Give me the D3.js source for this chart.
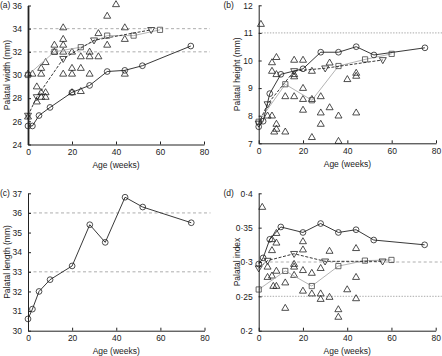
<!DOCTYPE html>
<html>
<head>
<meta charset="utf-8">
<script src="https://cdn.jsdelivr.net/npm/d3@7"></script>
<style>
  html, body { margin: 0; padding: 0; background: #fff; }
  svg { display: block; }
  text { font-family: "Liberation Sans", Arial, sans-serif; fill: #222; }
  .axis text { font-size: 8.5px; }
  .axis path, .axis line { stroke: #222; }
</style>
</head>
<body>
<script>
const xTicks = [0, 20, 40, 60, 80]

// (a) palatal width
const widthTicks = [24, 26, 28, 30, 32, 34, 36]
const widthCircle = [[0, 25.6], [2, 25.6], [5, 26.5], [10, 27.2], [20, 28.5], [28, 29.1], [36, 30.3], [44, 30.4], [52, 30.8], [74, 32.5]]
const widthTriDown = [[0, 26.5], [4, 28.1], [16, 31.4], [30, 33.0], [56, 33.9]]
const widthSquare = [[0, 30.0], [12, 32.0], [24, 32.4], [36, 33.4], [48, 33.4], [60, 33.9]]
const widthTri = [[0, 30.1], [2, 30.1], [6, 30.6], [6, 30.1], [8, 31.1], [12, 32.6], [12, 32.0], [16, 34.1], [16, 33.1],
  [16, 32.6], [16, 32.0], [16, 30.1], [20, 32.0], [20, 30.6], [20, 30.1], [24, 31.6], [24, 30.6], [28, 32.0], [28, 31.6],
  [28, 30.1], [32, 33.6], [32, 31.6], [36, 35.1], [36, 32.6], [40, 36.1], [44, 34.1], [44, 33.1], [44, 30.1], [4, 29.0],
  [6, 28.5], [8, 28.5], [6, 28.1], [8, 28.1], [4, 27.7], [24, 28.6], [20, 28.5], [0, 26.4]]

// (b) palatal height
const heightTicks = [7, 8, 9, 10, 11, 12]
const heightCircle = [[0, 7.6], [2, 7.8], [5, 8.8], [10, 9.5], [20, 9.7], [28, 10.3], [36, 10.3], [44, 10.5], [52, 10.2], [75, 10.46]]
const heightTriDown = [[0, 7.72], [4, 8.42], [16, 9.62], [30, 9.72], [56, 10.02]]
const heightSquare = [[0, 7.78], [12, 9.14], [24, 8.56], [36, 9.8], [48, 10.04], [60, 10.24]]
const heightTri = [[1, 11.32], [6, 9.93], [8, 10.12], [16, 10.02], [20, 10.02], [32, 9.92], [6, 9.62], [8, 9.5], [16, 9.5],
  [16, 9.42], [24, 9.62], [40, 9.32], [44, 9.55], [44, 9.44], [20, 9.0], [12, 8.7], [16, 8.7], [20, 8.6], [24, 8.6],
  [28, 8.7], [20, 8.21], [28, 8.11], [32, 8.3], [36, 8.0], [44, 8.11], [4, 8.0], [6, 8.0], [8, 7.7], [8, 7.52], [7, 7.42],
  [12, 7.42], [24, 7.22], [36, 7.08], [28, 7.7]]

// (c) palatal length
const lengthTicks = [30, 31, 32, 33, 34, 35, 36, 37]
const lengthCircle = [[0, 30.6], [2, 31.1], [5, 32.0], [10, 32.6], [20, 33.3], [28, 35.4], [35, 34.5], [44, 36.8], [52, 36.3], [74, 35.5]]

// (d) palatal index
const indexTicks = [0.2, 0.25, 0.3, 0.35, 0.4]
const indexTickLabels = ['0·2', '0·25', '0·3', '0·35', '0·4']
const indexCircle = [[0, 0.297], [2, 0.306], [5, 0.333], [10, 0.351], [20, 0.343], [28, 0.356], [36, 0.343], [44, 0.347], [52, 0.332], [75, 0.325]]
const indexTriDown = [[0, 0.291], [4, 0.302], [16, 0.312], [30, 0.301], [56, 0.301]]
const indexSquare = [[0, 0.260], [12, 0.287], [24, 0.265], [36, 0.294], [48, 0.302], [60, 0.303]]
const indexTri = [[1.6, 0.380], [8, 0.342], [6, 0.333], [8, 0.328], [6, 0.317], [20, 0.330], [20, 0.318], [32, 0.316],
  [44, 0.320], [4, 0.293], [8, 0.287], [16, 0.297], [16, 0.293], [16, 0.281], [20, 0.288], [24, 0.284], [28, 0.291],
  [4, 0.278], [6, 0.280], [6.6, 0.265], [8, 0.265], [12, 0.270], [20, 0.258], [24, 0.254], [28, 0.254], [28, 0.246],
  [32, 0.249], [40, 0.260], [44, 0.278], [44, 0.247], [12, 0.233], [36, 0.231], [36, 0.220]]

const W = 442, H = 356

const svg = d3.select('body').append('svg').attr('width', W).attr('height', H)

const triUp = 'M0,-3.7L3.5,2.3L-3.5,2.3Z'
const triDown = 'M0,3.7L3.5,-2.3L-3.5,-2.3Z'
const square = 'M-2.6,-2.6H2.6V2.6H-2.6Z'

function drawPanel(p) {
  const g = svg.append('g')
  const x = d3.scaleLinear().domain([0, 80]).range([p.left, p.left + p.w])
  const y = d3.scaleLinear().domain(p.yDomain).range([p.top + p.h, p.top])

  // reference lines
  for (const r of p.refs) {
    g.append('line')
      .attr('x1', p.left).attr('x2', p.left + p.w + 6)
      .attr('y1', y(r.v)).attr('y2', y(r.v))
      .attr('stroke', r.dotted ? '#bbb' : '#999')
      .attr('stroke-width', r.dotted ? 1.4 : 0.8)
      .attr('stroke-dasharray', r.dotted ? '1.4,1.4' : '3,2.5')
  }

  const line = d3.line().x((d) => x(d[0])).y((d) => y(d[1]))

  for (const s of p.series) {
    if (s.line) {
      g.append('path').datum(s.data).attr('d', line)
        .attr('fill', 'none').attr('stroke', s.color).attr('stroke-width', 0.9)
        .attr('stroke-dasharray', s.dash || null)
    }
    g.selectAll(null).data(s.data).join('path')
      .attr('transform', (d) => `translate(${x(d[0])},${y(d[1])})`)
      .attr('d', s.shape === 'circle' ? d3.symbol(d3.symbolCircle, 26)() : s.shape)
      .attr('fill', 'none').attr('stroke', s.markColor || '#222').attr('stroke-width', 0.8)
  }

  g.append('g').attr('class', 'axis')
    .attr('transform', `translate(0,${p.top + p.h})`)
    .call(d3.axisBottom(x).tickValues(xTicks).tickSize(-3).tickSizeOuter(0).tickPadding(4.5))
  const yAxis = g.append('g').attr('class', 'axis')
    .attr('transform', `translate(${p.left},0)`)
    .call(d3.axisLeft(y).tickValues(p.yTicks).tickSize(-3).tickSizeOuter(0).tickPadding(6)
      .tickFormat((d, i) => p.yLabels ? p.yLabels[i] : d))
  if (p.grayAxis) yAxis.select('.domain').attr('stroke', '#999').attr('stroke-width', 1.8)

  svg.append('text').attr('x', p.left + p.w / 2).attr('y', p.top + p.h + 23.5)
    .attr('text-anchor', 'middle').style('font-size', '8.5px').text('Age (weeks)')
  svg.append('text')
    .attr('transform', `translate(${p.left - 18.5},${p.top + p.h / 2}) rotate(-90)`)
    .attr('text-anchor', 'middle').style('font-size', '8.5px').text(p.yTitle)
  svg.append('text').attr('x', p.tagX).attr('y', p.top + 2.5)
    .style('font-size', '8.5px').text(p.tag)
}

const triSeries = (data) => ({ data, shape: triUp })

drawPanel({
  tag: '(a)', tagX: 0, yTitle: 'Palatal width (mm)', left: 28, top: 5.5, w: 176, h: 139,
  yDomain: [24, 36], yTicks: widthTicks, grayAxis: true,
  refs: [{ v: 34 }, { v: 32 }],
  series: [
    triSeries(widthTri),
    { data: widthSquare, shape: square, line: true, color: '#aaa', markColor: '#444' },
    { data: widthTriDown, shape: triDown, line: true, color: '#222', dash: '3,1.6' },
    { data: widthCircle, shape: 'circle', line: true, color: '#222' },
  ],
})

drawPanel({
  tag: '(b)', tagX: 223.5, yTitle: 'Palatal height (mm)', left: 258.7, top: 5.3, w: 177.3, h: 138,
  yDomain: [7, 12], yTicks: heightTicks,
  refs: [{ v: 11, dotted: true }],
  series: [
    triSeries(heightTri),
    { data: heightSquare, shape: square, line: true, color: '#aaa', markColor: '#444' },
    { data: heightTriDown, shape: triDown, line: true, color: '#222', dash: '3,1.6' },
    { data: heightCircle, shape: 'circle', line: true, color: '#222' },
  ],
})

drawPanel({
  tag: '(c)', tagX: 0, yTitle: 'Palatal length (mm)', left: 28, top: 193.3, w: 176.5, h: 137.4,
  yDomain: [30, 37], yTicks: lengthTicks,
  refs: [{ v: 36 }, { v: 33 }],
  series: [
    { data: lengthCircle, shape: 'circle', line: true, color: '#222' },
  ],
})

drawPanel({
  tag: '(d)', tagX: 223.5, yTitle: 'Palatal index', left: 258.7, top: 193.3, w: 177, h: 137.4,
  yDomain: [0.2, 0.4], yTicks: indexTicks, yLabels: indexTickLabels,
  refs: [{ v: 0.3 }, { v: 0.25, dotted: true }],
  series: [
    triSeries(indexTri),
    { data: indexSquare, shape: square, line: true, color: '#aaa', markColor: '#444' },
    { data: indexTriDown, shape: triDown, line: true, color: '#222', dash: '3,1.6' },
    { data: indexCircle, shape: 'circle', line: true, color: '#222' },
  ],
})
</script>
</body>
</html>
